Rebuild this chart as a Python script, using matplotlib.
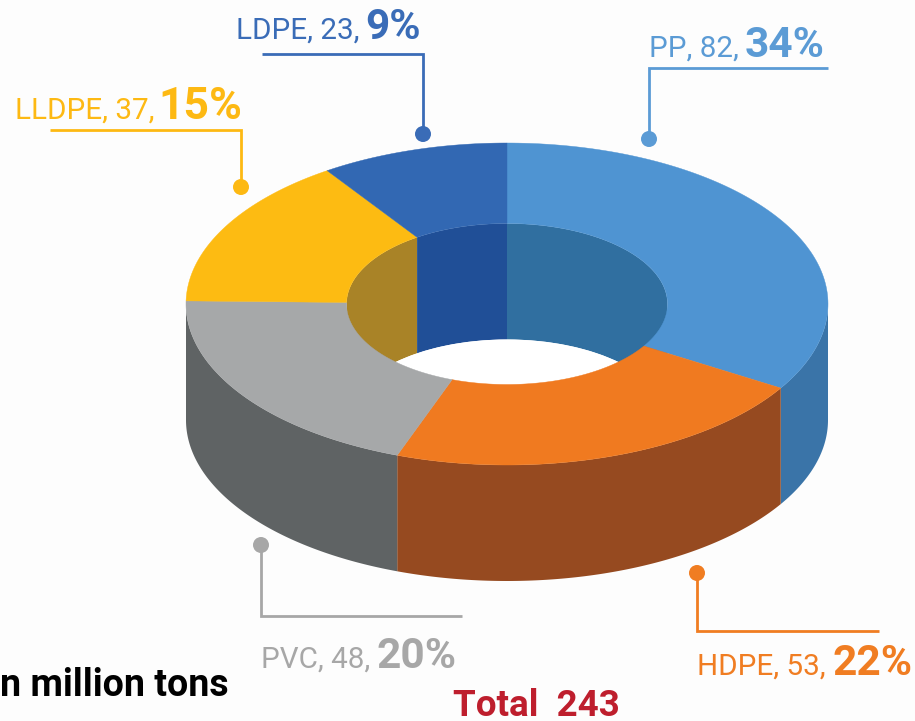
import numpy as np
import matplotlib
matplotlib.use('Agg')
import matplotlib.pyplot as plt
from matplotlib.patches import Polygon, Ellipse, Circle

names = ['PP', 'HDPE', 'PVC', 'LLDPE', 'LDPE']
values = [82, 53, 48, 37, 23]
percents = [34, 22, 20, 15, 9]
total = 243

top_colors = ['#4F94D2', '#F07A20', '#A6A8A9', '#FDBB12', '#3268B3']
wall_colors = ['#3A74A8', '#964A20', '#5F6364', '#A98327', '#204F97']
hole_colors = ['#306FA0', '#964A20', '#5F6364', '#A98327', '#204F97']
text_colors = ['#5B9BD5', '#F07D22', '#A7A7A7', '#FDB913', '#3A6CB7']

# ellipse geometry, in pixels
CX, CY = 507, 304
RX, RY = 321, 161
HX, HY = 160.5, 80.5
DEPTH = 116


def arc(rx, ry, a0, a1, dy=0):
    # angles run clockwise from the top of the ring
    t = np.radians(np.linspace(a0, a1, 120))
    return np.column_stack([CX + rx * np.sin(t), CY - ry * np.cos(t) + dy])


def wall(rx, ry, a0, a1):
    return np.vstack([arc(rx, ry, a0, a1), arc(rx, ry, a1, a0, DEPTH)])


plt.rcParams['font.family'] = ['Roboto', 'DejaVu Sans']
fig = plt.figure(figsize=(9.15, 7.21), dpi=100, facecolor='#FDFDFD')
ax = fig.add_axes([0, 0, 1, 1])
ax.set_xlim(0, 915)
ax.set_ylim(721, 0)
ax.axis('off')

ax.add_patch(Ellipse((CX, CY), 2 * HX, 2 * HY, color='white', lw=0, zorder=1))

edges = np.cumsum([0] + values) / total * 360

for i in range(len(values)):
    a0, a1 = edges[i], edges[i + 1]

    # inside of the hole, only the far half shows
    for lo, hi in [(-90, 90), (270, 450)]:
        s, e = max(a0, lo), min(a1, hi)
        if e > s:
            ax.add_patch(Polygon(wall(HX, HY, s, e), closed=True, color=hole_colors[i], lw=0, zorder=2))

    # outer side, only the near half shows
    s, e = max(a0, 90), min(a1, 270)
    if e > s:
        ax.add_patch(Polygon(wall(RX, RY, s, e), closed=True, color=wall_colors[i], lw=0, zorder=4))

ax.add_patch(Ellipse((CX, CY + DEPTH), 2 * HX, 2 * HY, color='white', lw=0, zorder=3))

for i in range(len(values)):
    a0, a1 = edges[i], edges[i + 1]
    face = np.vstack([arc(RX, RY, a0, a1), arc(HX, HY, a1, a0)])
    ax.add_patch(Polygon(face, closed=True, facecolor=top_colors[i], edgecolor=top_colors[i], lw=0.3, zorder=5))

# leader lines: (x, y) runs from the dot to the end of the rule
leaders = {
    'PP': ([649, 649, 828], [139, 67.5, 67.5]),
    'HDPE': ([697, 697, 879], [573, 631, 631]),
    'PVC': ([261, 261, 462], [545, 616, 616]),
    'LLDPE': ([241, 241, 50], [187, 129.5, 129.5]),
    'LDPE': ([423, 423, 262], [134, 54, 54]),
}
# left of the regular text, right of the bold text, baseline, bold size
labels = {
    'PP': (649, 825, 57, 30.5),
    'HDPE': (697, 913, 675, 30.5),
    'PVC': (261, 457, 668, 30.5),
    'LLDPE': (15, 242, 119, 32),
    'LDPE': (236, 421, 39, 30.5),
}

for i, name in enumerate(names):
    c = text_colors[i]
    xs, ys = leaders[name]
    ax.plot(xs, ys, color=c, lw=2.0, solid_capstyle='butt', solid_joinstyle='miter', zorder=6)
    ax.add_patch(Circle((xs[0], ys[0]), 8, color=c, lw=0, zorder=7))
    x0, x1, base, size = labels[name]
    ax.text(x0, base, f'{name}, {values[i]},', color=c, fontsize=21.3, ha='left', va='baseline', zorder=8)
    ax.text(x1, base, f'{percents[i]}%', color=c, fontsize=size, fontweight='bold', ha='right', va='baseline', zorder=8)

ax.text(229, 696, 'n million tons', color='black', fontsize=27, fontweight='bold', ha='right', va='baseline')
ax.text(536, 716, f'Total  {total}', color='#BE1E2D', fontsize=26.5, fontweight='bold', ha='center', va='baseline')

fig.savefig('out.png', dpi=100, facecolor=fig.get_facecolor())
